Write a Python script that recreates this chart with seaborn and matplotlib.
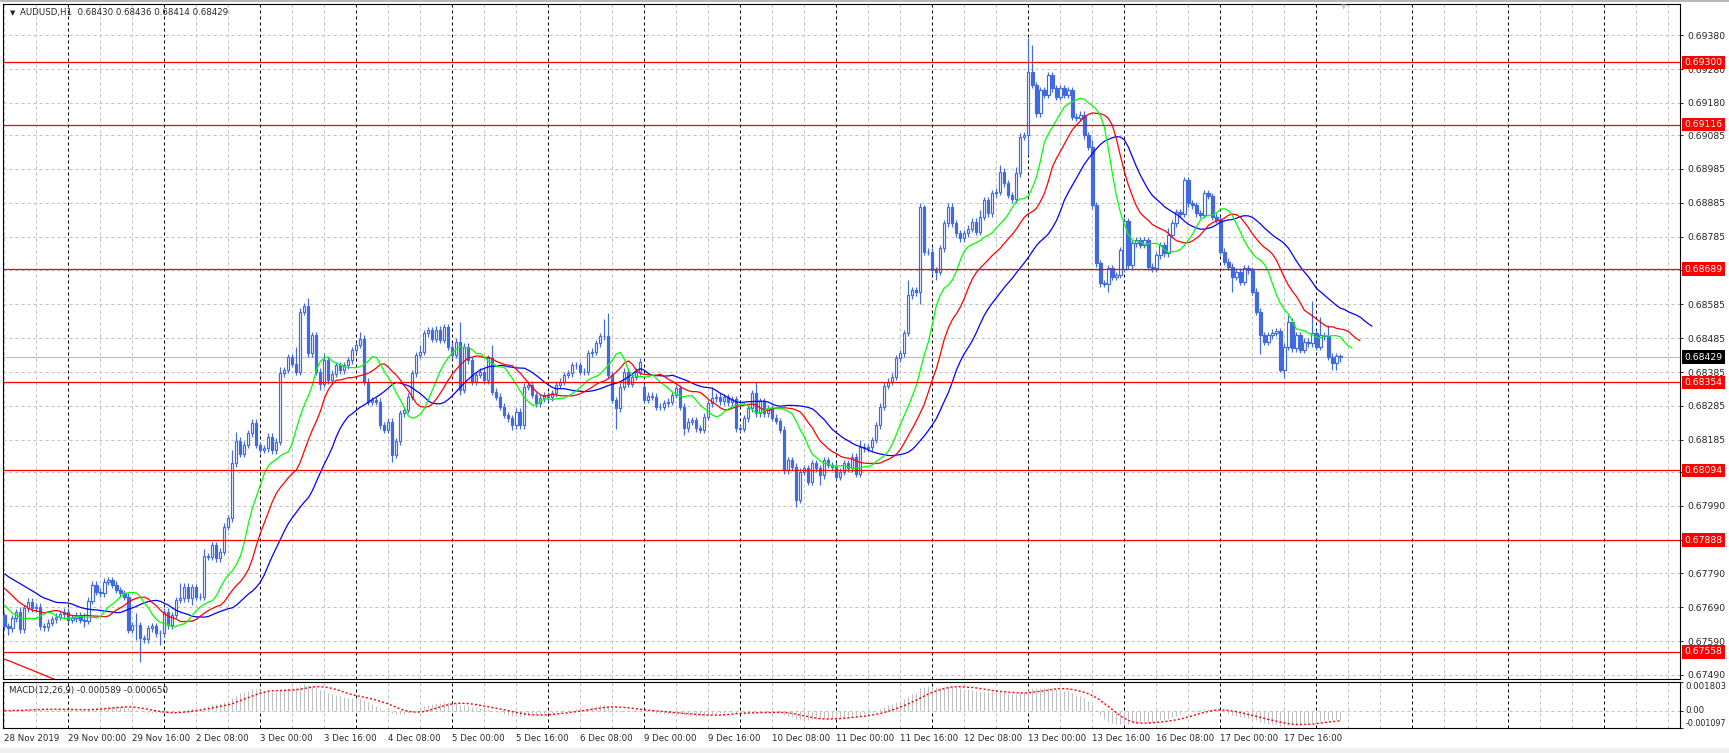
import numpy as np
import pandas as pd
import matplotlib
matplotlib.use("Agg")
import matplotlib.pyplot as plt
import seaborn as sns

# -------------------------
# Configuration
# -------------------------
sns.set_style("white")
plt.rcParams["font.family"] = ["DejaVu Sans"]
plt.rcParams["lines.solid_capstyle"] = "butt"

W, H, DPI = 1729, 753, 100
FS = 6.2
FS_PRICE = 6.7
CANDLE = "#4169E1"
GRID = "#C0C0C0"

# -------------------------
# Data: AUDUSD H1, prices in pips above 0.67000
# -------------------------
BASE = 0.67
PIP = 0.0001

close_28nov = [63.3, 62.8, 65.7, 67.5, 62.5, 68.7, 70.6, 68.7, 69.2, 63.3, 63.0, 64.4, 65.4, 66.2, 66.9, 67.7]
close_29nov = [65.2, 65.7, 66.5, 65.2, 65.0, 70.9, 75.6, 73.6, 73.1, 76.5, 77.0, 75.6, 74.1, 73.1, 72.1, 62.3,
               63.7, 63.7, 59.8, 59.5, 62.8, 63.3, 61.3, 61.3]
close_02dec = [67.7, 63.7, 66.7, 71.1, 71.6, 75.1, 71.6, 75.0, 72.0, 72.1, 84.1, 83.8, 87.4, 83.4, 85.4, 92.8,
               95.3, 111.5, 118.2, 114.3, 117.0, 120.4, 123.5, 116.9]
close_03dec = [115.5, 116.0, 119.4, 115.4, 117.9, 138.1, 139.1, 142.8, 141.0, 138.6, 156.3, 158.0, 144.0, 149.4,
               138.6, 135.1, 142.0, 136.0, 138.0, 140.5, 139.0, 140.5, 142.0, 145.0]
close_04dec = [146.5, 148.4, 135.6, 129.7, 130.2, 129.7, 122.8, 121.4, 123.8, 114.0, 118.0, 126.3, 127.3, 131.2,
               138.1, 143.5, 144.5, 149.9, 150.9, 148.4, 151.0, 148.0, 151.7, 146.0]
close_05dec = [143.5, 147.5, 133.2, 146.0, 142.0, 135.6, 137.6, 138.6, 136.0, 142.5, 132.7, 131.2, 128.3, 125.8,
               124.8, 122.8, 126.8, 122.8, 134.2, 134.7, 131.7, 129.2, 130.7, 131.7]
close_06dec = [131.0, 132.2, 134.7, 135.6, 137.6, 138.1, 140.5, 140.5, 138.6, 138.6, 144.0, 144.5, 147.0, 149.0,
               149.2, 137.6, 130.2, 127.8, 134.2, 138.6, 135.1, 137.1, 138.6, 141.6]
close_09dec = [130.2, 131.5, 131.2, 128.3, 128.3, 129.3, 129.7, 131.7, 133.7, 128.3, 121.9, 123.8, 124.3, 121.9,
               121.4, 125.3, 129.2, 130.7, 131.2, 129.8, 131.0, 129.5, 130.5, 121.9]
close_10dec = [121.8, 124.8, 127.8, 132.2, 126.3, 129.8, 126.3, 127.8, 125.0, 124.0, 121.4, 109.5, 112.5, 110.5,
               100.7, 109.0, 110.0, 106.1, 111.5, 110.0, 108.0, 112.5, 111.0, 110.5]
close_11dec = [107.5, 109.0, 111.5, 110.0, 113.5, 108.5, 116.4, 116.0, 116.3, 118.4, 122.8, 128.3, 134.4, 135.6,
               137.1, 142.5, 144.0, 150.0, 161.2, 162.7, 162.0, 187.3, 174.0, 174.0]
close_12dec = [168.6, 168.1, 175.0, 182.4, 187.3, 182.4, 179.5, 178.0, 179.5, 180.9, 182.9, 179.9, 184.4, 189.3,
               185.4, 191.3, 191.8, 197.7, 194.3, 190.8, 189.5, 197.2, 208.0, 208.5]
close_13dec = [227.2, 223.3, 214.9, 221.8, 220.4, 226.3, 222.3, 219.9, 222.3, 220.4, 221.8, 214.0, 213.6, 214.5,
               208.5, 205.1, 187.8, 170.6, 164.7, 164.5, 169.1, 166.7, 167.2, 174.5]
close_16dec = [183.0, 170.0, 176.5, 177.5, 176.0, 177.5, 169.6, 169.1, 173.0, 176.0, 173.6, 179.0, 182.4, 185.8,
               185.3, 195.2, 188.3, 187.8, 185.4, 184.9, 191.3, 190.5, 184.4, 183.5]
close_17dec = [174.1, 171.1, 169.6, 166.7, 168.1, 165.2, 169.1, 168.5, 162.2, 156.3, 149.4, 147.5, 149.4, 150.1,
               150.5, 139.1, 146.0, 153.4, 145.5, 149.4, 145.0, 147.5, 147.0, 149.9]
close_18dec = [146.0, 149.4, 149.0, 143.0, 141.1, 143.2, 142.9]

# upper / lower wick lengths beyond the body, in pips
wick_up_days = [
    [0.5, 1, 1, 1, 1.5, 1, 1, 1, 1, 1, 1, 1, 1, 1, 1, 1],
    [1, 1, 1, 1, 2, 1, 1, 1, 1, 1, 1, 1, 1, 1, 1, 1, 1, 3.5, 1, 1, 1, 1, 1, 1],
    [1, 1, 1, 1, 4.5, 1, 1, 1, 1, 1, 2, 1, 1, 1, 1, 1, 1, 4, 2.7, 1, 1, 1, 1, 1],
    [1, 1, 1, 1, 1, 2, 1, 1, 1, 5, 1, 1, 2.5, 1, 1, 1, 2, 1, 1, 1, 1, 1, 1, 1],
    [1, 2, 1, 1, 1, 1, 1, 1, 1, 1, 1, 1, 1, 1, 1, 1, 2, 1, 1, 1, 1, 1, 1, 1],
    [1, 1, 5.9, 1, 1, 1, 1, 1, 1, 1, 4, 1, 1, 1, 1, 1, 1, 1, 1, 1, 1, 1, 1, 1],
    [1, 1, 1, 1, 1, 1, 1, 1, 1, 1, 1, 1, 1, 1, 5, 6.6, 1, 1, 1, 1, 1, 1, 1, 1],
    [1, 1, 1, 1, 1, 1, 1, 1, 1, 1, 1, 1, 1, 1, 1, 1, 1, 3.5, 1, 1, 1, 1, 1, 1],
    [1, 1, 1, 1, 3.4, 1, 1, 1, 1, 1, 1, 1, 1, 1, 1, 1, 1, 1, 1, 1, 1, 1, 1, 1],
    [1, 1, 1, 1, 1, 1, 2, 1, 1, 1, 1, 1, 1, 1, 1, 1, 1, 1, 4.5, 1, 1, 1, 0.5, 1],
    [1, 1, 1, 1, 1, 1, 1, 1, 1, 1, 1, 1, 2, 1, 1, 1, 1, 2, 1, 1, 1, 2, 1, 1],
    [10, 8, 1, 1, 1, 1, 1, 1, 1, 1, 1, 1, 1, 1, 1, 1, 2, 1, 1, 1, 1, 1, 1, 1],
    [1, 1, 1, 1, 1, 1, 1, 1, 1, 1, 1, 2, 1, 1, 1, 1, 1, 1, 1, 1, 1, 1, 1, 1],
    [1, 1, 1, 1, 1, 1, 1, 1, 1, 1, 1, 1, 1, 1, 1, 1, 1, 2, 1, 1, 1, 1, 1, 9.7],
    [1, 5.4, 1, 3.5, 1, 1, 0.6],
]
wick_dn_days = [
    [1, 2, 1, 1, 1, 1, 1, 1, 1, 1, 1, 1, 1, 1, 1, 1],
    [1, 1, 1, 1, 2, 1, 1, 1, 1, 1, 1, 1, 1, 1, 1, 1, 1, 4.4, 7, 1, 1, 1, 1, 3.5],
    [1, 1, 1, 1, 1, 1, 1, 2, 1, 1, 1, 1, 1, 1, 1, 1, 1, 1, 1, 1, 1, 1, 1, 1],
    [1, 1, 1, 1, 1, 1, 1, 1, 1, 1, 1, 1, 1, 1, 1, 2, 1, 1, 1, 1, 1, 1, 1, 1],
    [1, 1, 1, 1, 1, 1, 1, 1, 1, 2, 1, 1, 1, 1, 1, 1, 1, 1, 1, 1, 1, 1, 1, 1],
    [1, 1, 1.5, 1, 1, 1, 1, 1, 1, 1, 1, 1, 1, 1, 1, 1.5, 1, 1, 1, 1, 1, 1, 1, 1],
    [1, 1, 1, 1, 1, 1, 1, 1, 1, 1, 1, 1, 1, 1, 1, 1, 1, 6, 1, 1, 1, 1, 1, 1],
    [1, 1, 1, 1, 1, 1, 1, 1, 1, 1, 2, 1, 1, 1, 1, 1, 1, 1, 1, 1, 1, 1, 1, 1],
    [1, 1, 1, 1, 1, 1, 1, 1, 1, 1, 1, 1, 1, 1, 2, 1, 1, 1, 1, 1, 3, 1, 1, 1],
    [1, 1, 1, 1, 1, 1, 1, 1, 1, 1, 1, 1, 1, 1, 1, 1, 1, 1, 1, 1, 1, 3.5, 1, 1],
    [1, 2.4, 1, 1, 1, 1, 1, 1, 1, 1, 1, 1, 1, 1, 1, 1, 1, 1, 1, 1, 1, 1, 1, 1],
    [5.9, 1, 1, 1, 1, 1, 1, 1, 1, 1, 1, 1, 1, 1, 1, 1, 1, 1, 1, 1, 2.3, 1, 1, 1],
    [1, 1, 1, 1, 1, 1, 1, 1, 1, 1, 1, 1, 1, 1, 1, 1, 1, 1, 1, 1, 1, 1, 1, 1],
    [1, 1, 1, 4.5, 1, 1, 1, 1, 1, 1, 5.5, 1, 1, 1, 1, 0.5, 2.5, 1, 1, 1, 1, 1, 1, 1],
    [1, 1, 1, 1, 2, 2, 1.5],
]
# bars whose open is not the previous close (first bar, Monday gaps)
open_gaps = {0: 66.7, 160: 134.0, 280: 169.0}

# Alligator values drawn left of the first shifted point
jaw_lead = [78.9, 78.0, 77.3, 76.6, 75.9, 75.2, 74.5, 73.8]
teeth_lead = [74.6, 73.5, 72.4, 71.2, 70.2]
lips_lead = [69.7, 68.4, 67.2]

levels = [0.69300, 0.69116, 0.68689, 0.68354, 0.68094, 0.67888, 0.67558]
bid = 0.68429
trend_bars = [0.0, 12.5]
trend_pips = [53.7, 47.7]

price_ticks = [0.69380, 0.69280, 0.69180, 0.69085, 0.68985, 0.68885, 0.68785, 0.68685, 0.68585, 0.68485,
               0.68385, 0.68285, 0.68185, 0.68090, 0.67990, 0.67890, 0.67790, 0.67690, 0.67590, 0.67490]
time_labels = ["28 Nov 2019", "29 Nov 00:00", "29 Nov 16:00", "2 Dec 08:00", "3 Dec 00:00", "3 Dec 16:00",
               "4 Dec 08:00", "5 Dec 00:00", "5 Dec 16:00", "6 Dec 08:00", "9 Dec 00:00", "9 Dec 16:00",
               "10 Dec 08:00", "11 Dec 00:00", "11 Dec 16:00", "12 Dec 08:00", "13 Dec 00:00", "13 Dec 16:00",
               "16 Dec 08:00", "17 Dec 00:00", "17 Dec 16:00"]
macd_top, macd_bottom = 0.001803, -0.001097

# -------------------------
# Build the bars
# -------------------------
close_pips = (close_28nov + close_29nov + close_02dec + close_03dec + close_04dec + close_05dec + close_06dec
              + close_09dec + close_10dec + close_11dec + close_12dec + close_13dec + close_16dec
              + close_17dec + close_18dec)
wick_up = sum(wick_up_days, [])
wick_dn = sum(wick_dn_days, [])
assert len(close_pips) == len(wick_up) == len(wick_dn)

n = len(close_pips)
bar = np.arange(n)
close = BASE + np.array(close_pips) * PIP
opn = np.r_[close[0], close[:-1]]
for k, v in open_gaps.items():
    opn[k] = BASE + v * PIP
high = np.maximum(opn, close) + np.array(wick_up) * PIP
low = np.minimum(opn, close) - np.array(wick_dn) * PIP

df = pd.DataFrame({"bar": bar, "open": opn, "high": high, "low": low, "close": close})
df["median"] = (df["high"] + df["low"]) / 2


def smma(values, period, start):
    out, s = [], start
    for v in values:
        s = (s * (period - 1) + v) / period
        out.append(s)
    return out


def alligator_line(lead, period):
    lead_px = [BASE + v * PIP for v in lead]
    vals = lead_px + smma(df["median"], period, lead_px[-1])
    return pd.DataFrame({"x": np.arange(len(vals)), "y": vals})


jaw = alligator_line(jaw_lead, 13)      # shifted 8
teeth = alligator_line(teeth_lead, 8)   # shifted 5
lips = alligator_line(lips_lead, 5)     # shifted 3

macd_main = df["close"].ewm(span=12, adjust=False).mean() - df["close"].ewm(span=26, adjust=False).mean()
macd_signal = macd_main.rolling(9, min_periods=1).mean()

# -------------------------
# Figure layout (pixel boxes)
# -------------------------
fig = plt.figure(figsize=(W / DPI, H / DPI), dpi=DPI)
fig.patch.set_facecolor("white")


def box(x0, y0, x1, y1):
    return [x0 / W, 1 - y1 / H, (x1 - x0) / W, (y1 - y0) / H]


ax1 = fig.add_axes(box(3, 4, 1680, 679))
ax2 = fig.add_axes(box(3, 682, 1680, 728))
xlim = (-0.35, 418.9)

for ax in (ax1, ax2):
    ax.set_xlim(*xlim)
    for s in ax.spines.values():
        s.set_color("black")
        s.set_linewidth(0.8)
    for i in range(0, 419, 8):
        sep = (i - 16) % 24 == 0
        ax.axvline(i, color="black" if sep else GRID, lw=0.72, ls=(0, (3, 3)), zorder=1)

ax1.set_ylim(0.674778, 0.694725)
ax2.set_ylim(macd_bottom, macd_top)

for p in price_ticks:
    ax1.axhline(p, color=GRID, lw=0.72, ls=(0, (3, 3)), zorder=1)
ax2.axhline(0, color=GRID, lw=0.72, ls=(0, (3, 3)), zorder=1)

# -------------------------
# Candles
# -------------------------
up = df["close"] >= df["open"]
ax1.vlines(df["bar"], df["low"], df["high"], color=CANDLE, lw=0.85, zorder=3)
ax1.bar(df["bar"][up], (df["close"] - df["open"])[up], bottom=df["open"][up], width=0.55,
        facecolor="white", edgecolor=CANDLE, linewidth=0.85, zorder=4)
ax1.bar(df["bar"][~up], (df["close"] - df["open"])[~up], bottom=df["open"][~up], width=0.55,
        facecolor=CANDLE, edgecolor=CANDLE, linewidth=0.85, zorder=4)

# Alligator
for line, col in ((jaw, "#0000FF"), (teeth, "#FF0000"), (lips, "#00FF00")):
    sns.lineplot(data=line, x="x", y="y", ax=ax1, color=col, lw=0.9, estimator=None, sort=False, zorder=5)

# levels, bid, trendline
ax1.axhline(bid, color=GRID, lw=0.9, zorder=2)
for p in levels:
    ax1.axhline(p, color="red", lw=0.9, zorder=6)
ax1.plot(trend_bars, [BASE + v * PIP for v in trend_pips], color="red", lw=0.9, zorder=6)

# price axis
ax1.yaxis.tick_right()
ax1.set_yticks(price_ticks)
ax1.set_yticklabels([f"{p:.5f}" for p in price_ticks])
ax1.tick_params(axis="y", direction="out", length=2.5, width=0.7, pad=2.5, labelsize=FS_PRICE,
                right=True, left=False)
ax1.set_xticks([])
ax1.set_xlabel("")
ax1.set_ylabel("")

lbl_kw = dict(xycoords=ax1.get_yaxis_transform(), xytext=(3.2, 0), textcoords="offset points",
              ha="left", va="center", fontsize=FS_PRICE, color="white", annotation_clip=False, zorder=10)
for p in levels:
    ax1.annotate(f"{p:.5f}", xy=(1, p), bbox=dict(boxstyle="square,pad=0.25", fc="red", ec="none"), **lbl_kw)
ax1.annotate(f"{bid:.5f}", xy=(1, bid), bbox=dict(boxstyle="square,pad=0.25", fc="black", ec="none"), **lbl_kw)

# -------------------------
# MACD panel
# -------------------------
ax2.vlines(df["bar"], 0, macd_main, color=GRID, lw=0.75, zorder=2)
sns.lineplot(x=df["bar"], y=macd_signal, ax=ax2, color="red", lw=1.0, ls=(0, (1.5, 1.5)),
             estimator=None, sort=False, zorder=3)
ax2.yaxis.tick_right()
ax2.set_yticks([macd_top, 0, macd_bottom])
ax2.set_yticklabels(["0.001803", "0.00", "-0.001097"])
ax2.tick_params(axis="y", direction="out", length=2.5, width=0.7, pad=1.5, labelsize=FS,
                right=True, left=False)
for lab, va in zip(ax2.get_yticklabels(), ["top", "center", "bottom"]):
    lab.set_va(va)
ax2.get_yticklabels()[2].set_fontsize(5.8)
ax2.set_xticks(np.arange(len(time_labels)) * 16)
ax2.set_xticklabels(time_labels, ha="left")
ax2.tick_params(axis="x", direction="out", length=3, width=0.7, pad=1.5, labelsize=FS)
ax2.set_xlabel("")
ax2.set_ylabel("")

# -------------------------
# Texts and window frame
# -------------------------
fig.text(10 / W, 1 - 13 / H, "\u25bc", fontsize=5, va="center", ha="left")
fig.text(20 / W, 1 - 13 / H, "AUDUSD,H1  0.68430 0.68436 0.68414 0.68429", fontsize=6.2, va="center", ha="left")
fig.text(9 / W, 1 - 690 / H, "MACD(12,26,9) -0.000589 -0.000650", fontsize=FS, va="center", ha="left")
fig.text(1344 / W, 1 - 7 / H, "\u25bc", fontsize=5, color="#C8C8C8", va="center", ha="center")

fig.patches.append(plt.Rectangle((0, 1 - 2 / H), 1, 2 / H, transform=fig.transFigure, fc="#B8B8B8", ec="none"))
fig.patches.append(plt.Rectangle((0, 0), 1, 5 / H, transform=fig.transFigure, fc="#F0F0F0", ec="none"))

fig.savefig("out.png", dpi=DPI, facecolor="white")
plt.close(fig)
